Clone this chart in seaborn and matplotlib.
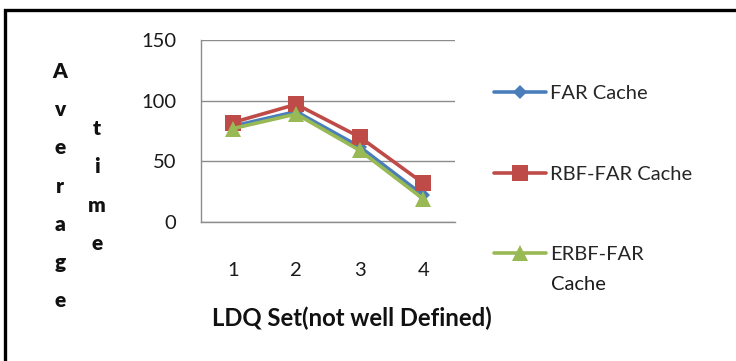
import matplotlib
matplotlib.use("Agg")
import matplotlib.pyplot as plt
import seaborn as sns
import pandas as pd
from matplotlib.lines import Line2D
from matplotlib.patches import Rectangle

categories = ["1", "2", "3", "4"]
far_cache = [79, 91, 62, 22]
rbf_far_cache = [82, 97, 70, 32]
erbf_far_cache = [77, 89, 59, 19]
series_names = ["FAR Cache", "RBF-FAR Cache", "ERBF-FAR Cache"]
legend_labels = ["FAR Cache", "RBF-FAR Cache", "ERBF-FAR"]
legend_extra = "Cache"
y_ticks = [0, 50, 100, 150]

colors = ["#4A7EBB", "#BE4B48", "#98B954"]
markers = ["D", "s", "^"]
msizes = [7, 11, 11]

sns.set_theme(style="white")
plt.rcParams["font.family"] = ["Lato", "DejaVu Sans"]

rows = []
for name, vals in zip(series_names, [far_cache, rbf_far_cache, erbf_far_cache]):
    for c, v in zip(categories, vals):
        rows.append({"LDQ": c, "value": v, "series": name})
df = pd.DataFrame(rows)

fig = plt.figure(figsize=(7.36, 3.61), dpi=100)
ax = fig.add_axes([201/736, 1-222/361, (455-201)/736, (222-40)/361])

for name, col, mk, ms in zip(series_names, colors, markers, msizes):
    sub = df[df["series"] == name]
    sns.lineplot(data=sub, x="LDQ", y="value", ax=ax, color=col, linewidth=2.6,
                 marker=mk, markersize=ms, markeredgewidth=0, legend=False,
                 sort=False)

ax.set_xlim(-0.5, 3.5)
ax.set_ylim(0, 150)
ax.set_yticks(y_ticks)
ax.set_xticks(range(4))
ax.set_xticklabels(categories)
ax.set_xticks([-0.5, 0.5, 1.5, 2.5, 3.5], minor=True)
ax.tick_params(axis="x", which="major", length=0, pad=29, labelsize=14.5, colors="#1a1a1a")
ax.tick_params(axis="x", which="minor", length=8, width=1, color="#8c8c8c", direction="out")
ax.tick_params(axis="y", which="major", length=8, width=1, color="#8c8c8c", direction="out",
               pad=10, labelsize=14.5, labelcolor="#1a1a1a")
ax.grid(axis="y", color="#8c8c8c", linewidth=1)
ax.grid(axis="x", visible=False)
for s in ["top", "right"]:
    ax.spines[s].set_visible(False)
for s in ["left", "bottom"]:
    ax.spines[s].set_color("#8c8c8c")
    ax.spines[s].set_linewidth(1)
ax.set_xlabel("")
ax.set_ylabel("")

fig.text(352/736, 1-318/361, "LDQ Set(not well Defined)", ha="center", va="center",
         fontsize=17.2, fontweight="bold", color="#111111")

fig.text(60/736, 1-186/361, "A\nv\ne\nr\na\ng\ne", ha="center", va="center",
         fontsize=15, fontweight="heavy", linespacing=2.2, color="#111111")
fig.text(97/736, 1-186/361, "t\ni\nm\ne", ha="center", va="center",
         fontsize=15, fontweight="heavy", linespacing=2.2, color="#111111")

handles = [Line2D([], [], color=c, linewidth=2.6, marker=m, markersize=s, markeredgewidth=0)
           for c, m, s in zip(colors, markers, msizes)]
leg = fig.legend(handles, legend_labels, loc="upper left", bbox_to_anchor=(494/736, 1-85/361),
                 frameon=False, fontsize=14.5, labelspacing=3.15, handlelength=2.6,
                 handletextpad=0.2, borderaxespad=0, borderpad=0)
fig.text(551/736, 1-284/361, legend_extra, ha="left", va="center", fontsize=14.5, color="#1a1a1a")

fig.patches.append(Rectangle((5/736, -0.2), 1.2, 1.2 - 10/361, transform=fig.transFigure,
                             fill=False, edgecolor="black", linewidth=2.4))

fig.savefig("out.png", dpi=100)
